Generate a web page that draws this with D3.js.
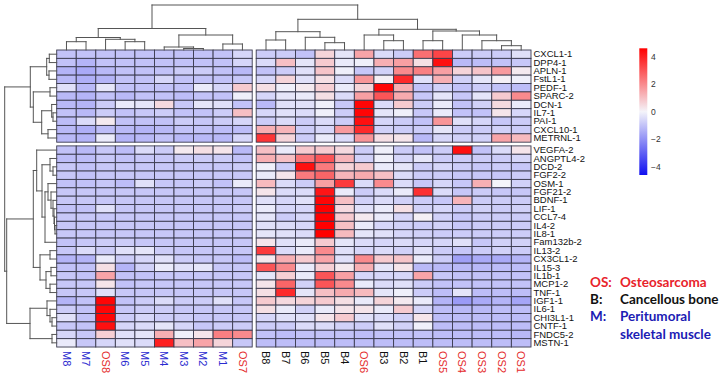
<!DOCTYPE html>
<html>
<head>
<meta charset="utf-8">
<script src="https://cdn.jsdelivr.net/npm/d3@7"></script>
<style>
  body { margin: 0; background: #fff; }
  svg { display: block; }
</style>
</head>
<body>
<div id="chart"></div>
<script>
// column order as in the figure (left block | right block)
const leftCols = ["M8", "M7", "OS8", "M6", "M5", "M4", "M3", "M2", "M1", "OS7"];
const rightCols = ["B8", "B7", "B6", "B5", "B4", "OS6", "B3", "B2", "B1", "OS5", "OS4", "OS3", "OS2", "OS1"];

const topRows = ["CXCL1-1", "DPP4-1", "APLN-1", "FstL1-1", "PEDF-1", "SPARC-2", "DCN-1", "IL7-1", "PAI-1", "CXCL10-1", "METRNL-1"];
const bottomRows = ["VEGFA-2", "ANGPTL4-2", "DCD-2", "FGF2-2", "OSM-1", "FGF21-2", "BDNF-1", "LIF-1", "CCL7-4", "IL4-2", "IL8-1",
  "Fam132b-2", "IL13-2", "CX3CL1-2", "IL15-3", "IL1b-1", "MCP1-2", "TNF-1", "IGF1-1", "IL6-1", "CHI3L1-1", "CNTF-1", "FNDC5-2", "MSTN-1"];

// z-scores, one row per gene, columns in leftCols then rightCols order
const cellValues = [
  [-1, -1, -1, -1, -1, -1, -1, -1, -1, -0.6,   -0.8, -0.8, -1.0, 0.6, -0.3, 1.5, -0.5, -0.8, 2.5, 3.3, -0.8, -0.8, -0.8, -0.4],
  [-1, -1.3, -1, -1, -1, -1, -1, -1, -1, -0.6,   -0.5, 1.0, -0.3, 0.8, -0.2, -0.1, 1.3, 1.6, 0.4, 4.3, -1.2, -1.1, -1.0, -0.9],
  [-1.3, -1.5, -1.2, -1, -1, -1, -0.8, -0.8, -1, -1.2,   -1.0, -0.8, -0.4, 0.9, -0.1, -0.9, -0.7, 2.0, 2.2, 1.6, 0.6, 0.9, 1.7, 0.2],
  [-1.2, -1.4, -1.3, -1, -1, -0.6, -1, -1, -1, -0.9,   -0.6, 0.6, -0.4, 0.4, -0.5, 1.8, 0.1, 3.8, -0.4, 1.3, -0.7, -0.3, 0.1, -0.1],
  [-0.4, -1.2, -0.3, -1, -1, -1, -1, -0.2, -0.6, 0.8,   0.4, -0.1, 0.2, 0.7, -0.2, 0.6, 4.5, 1.3, -1.0, -0.7, -1.0, -0.8, -1.0, -1.1],
  [-1.2, -1.3, -1, -1.2, -1, -1, -1.1, -1, -1, -0.1,   -0.6, -0.3, -0.2, 0.4, -0.5, 1.6, 3.0, 1.4, -0.9, -0.3, -0.9, -0.3, 0.8, 2.0],
  [-1.2, -1.3, -0.8, -0.2, -0.3, 0.5, -0.9, -0.3, -0.4, -1.0,   -1.2, -0.4, -0.4, -0.1, -0.9, 4.5, -0.5, 0.8, -0.8, -0.2, -1.0, -0.7, 0.5, -0.2],
  [-1, -1.2, -0.8, -1, -0.9, -0.8, -1, -1, -0.8, 1.0,   -0.6, -0.4, -0.5, -0.1, -0.8, 4.5, -0.3, -0.1, -0.9, -0.2, -1.0, -1.0, 0.3, -0.6],
  [-1.1, -0.5, 0.2, -1, -1, -1, -0.8, -0.9, -0.8, -0.6,   -0.8, -0.5, -0.8, -0.5, -0.8, 4.3, -0.6, -0.8, -1.0, 1.8, -0.4, -0.6, -0.9, -0.8],
  [-1.2, -1.4, -1.1, -1.2, -1.3, -1.2, -1, -1, -1.1, -1.1,   1.3, 1.2, -0.8, -0.6, 1.7, 3.8, -0.7, -0.8, -0.8, -0.3, -0.8, -0.8, -0.7, -0.8],
  [-1.2, -1.3, -0.2, -1.3, -1.2, -1, -1.2, -1.2, -1.2, -0.6,   3.6, 0.6, -0.8, -0.2, -0.5, 1.8, 0.4, 0.3, -1.2, -0.6, -0.7, -0.7, 1.5, 1.1],

  [-1.0, -1.2, -0.9, -1.1, -0.5, -0.8, 0.2, 0.4, 0.3, -1.2,   1.0, -0.2, 0.8, 0.8, 0.5, -0.8, -0.1, -0.8, -1.0, -0.8, 4.3, -1.0, -0.5, 0.3],
  [-1.1, -1.1, -0.9, -1, -0.9, -0.9, -0.8, -0.8, -0.8, -1.0,   1.3, 1.0, 2.4, 3.0, 1.2, -0.7, -0.1, -0.6, -0.3, -0.8, -0.8, -0.8, -0.8, -0.6],
  [-0.9, -1, -0.9, -0.9, -0.9, -0.9, -0.9, -0.9, -0.9, -0.8,   -0.1, -0.8, 4.3, 2.3, 0.6, 0.8, -0.2, -0.3, -0.8, -0.6, -0.8, -0.9, -0.8, -0.9],
  [-0.9, -1, -0.9, -0.9, -0.9, -0.9, -0.9, -0.9, -0.9, -0.9,   -0.2, 0.3, 2.3, 2.7, 1.2, 1.4, 1.0, -0.5, -0.8, -0.8, -0.9, -0.9, -0.9, -0.8],
  [-1, -1, -0.9, -1.1, -0.4, -0.9, -0.9, -0.8, -1, -0.2,   1.1, -0.5, -0.8, 1.6, 3.5, -0.5, 2.0, -0.5, -0.9, -0.6, -0.9, 1.3, 0.0, -0.7],
  [-0.9, -0.9, -0.9, -0.9, -0.9, -0.9, -0.9, -0.9, -0.9, -0.9,   0.3, -0.5, -0.5, 4.2, -0.2, -0.8, -0.5, -0.2, 3.7, -0.5, -0.9, -0.8, -0.9, -0.9],
  [-0.9, -0.9, -0.9, -0.9, -0.9, -0.9, -0.9, -0.9, -0.9, -0.9,   -0.4, -0.6, -0.4, 4.5, 1.0, -0.7, -0.5, -0.7, -0.8, -0.9, 1.2, -0.8, -0.8, -0.8],
  [-1, -1, -0.4, -0.9, -0.9, -0.9, -0.9, -0.9, -0.9, -0.8,   -0.2, -0.6, -0.6, 4.6, 0.5, -0.4, -0.2, 0.4, -0.7, -0.6, -0.8, -0.7, -0.8, -0.7],
  [-0.9, -0.9, -0.9, -0.9, -0.9, -0.9, -0.9, -0.9, -0.9, -0.9,   -0.3, -0.8, -0.6, 4.6, 0.8, 0.2, -0.2, -0.6, 0.1, -0.7, -0.9, -0.8, -0.8, -0.8],
  [-0.9, -0.9, -0.9, -0.9, -0.9, -0.9, -0.9, -0.9, -0.9, -0.9,   -0.4, -0.5, -0.6, 4.6, 1.0, -0.2, -0.6, -0.7, -0.8, -0.7, -0.9, -0.8, -0.8, -0.8],
  [-0.9, -0.9, -0.9, -0.9, -0.9, -0.9, -0.9, -0.9, -0.9, -0.9,   -0.3, -0.4, -0.5, 4.6, 1.1, -0.3, -0.4, -0.6, -0.7, -0.8, -0.8, -0.8, -0.8, -0.8],
  [-1, -0.9, -0.8, -0.8, -0.9, -0.9, -0.9, -0.9, -0.9, -0.9,   0.3, -0.4, -0.2, 0.8, -0.3, -0.5, -0.6, -0.5, -0.6, -0.6, -0.4, -0.9, -0.7, -0.7],
  [-0.9, -0.5, -0.8, -0.4, -0.3, -0.8, -0.9, -0.9, -0.9, -0.9,   3.5, -0.5, -0.2, 2.0, -0.4, -0.6, -0.5, -0.7, -0.4, -0.8, -0.9, -0.8, -0.7, -0.8],
  [-1.3, -1.3, -0.2, -0.8, -0.6, -0.4, -0.8, -0.9, -0.9, -1.1,   0.2, 1.3, 0.8, 1.5, -0.4, 2.0, 0.8, 0.9, -0.2, -0.8, -1.7, -1.5, -1.5, -1.3],
  [-1, -1, 0.4, -1.3, -0.7, -0.2, -0.4, -0.3, -0.9, -0.9,   3.0, 2.0, -0.2, 0.7, 0.2, 1.3, -0.3, 0.3, -1.2, -1.2, -1.2, -1.2, -1.1, -1.1],
  [-0.9, -1, 1.5, -1, -1, -0.9, -0.9, -0.9, -0.9, -0.9,   -0.3, 0.7, -0.2, 3.0, 1.6, -0.6, -0.6, -0.6, 1.5, -0.9, -1.0, -1.0, -1.0, -1.0],
  [-0.9, -0.9, 0.3, -1, -0.9, -0.9, -0.9, -0.9, -0.9, -0.9,   0.3, 2.7, -0.7, 3.0, 2.0, -0.2, -0.5, -0.4, -0.8, -1.0, -1.0, -1.0, -1.0, -1.0],
  [-0.9, -0.9, -0.4, -0.9, -0.9, -0.9, -0.9, -0.9, -0.9, -0.9,   0.4, 3.8, -0.3, 1.0, 1.4, 1.1, -0.3, -0.1, -0.8, -1.1, -0.3, -1.1, -1.1, -1.1],
  [-1.3, -1.0, 4.5, -1.0, -0.8, -0.5, -0.8, -0.8, -0.4, -0.9,   0.8, 0.5, 0.6, 0.8, 0.4, -0.2, 0.6, 0.2, -0.2, -1.3, -1.8, -1.5, -1.3, -1.6],
  [-0.8, -1, 4.5, -0.9, -0.8, -0.8, -0.9, -0.9, -0.9, -0.9,   0.4, -0.2, -0.7, -0.2, 0.3, 0.3, -0.2, 0.8, -0.6, -1.1, -1.2, -1.2, -1.1, -1.1],
  [-0.4, -1, 4.5, -0.8, -0.6, -0.8, -0.8, -0.9, -0.9, -0.9,   -0.6, -0.4, -0.4, 0.3, 0.8, -0.4, -0.5, -0.7, 0.3, -1.1, -1.1, -1.1, -1.1, -1.1],
  [-0.9, -1, 4.3, -0.6, -0.5, -0.3, -0.6, -0.9, -0.8, -0.8,   -0.8, -0.8, -0.5, -0.5, -0.7, -0.8, -0.4, -0.7, -0.1, -1.1, -1.1, -1.1, -1.1, -1.1],
  [-0.6, -0.9, 0.7, -0.4, -0.3, 1.3, -0.1, 0.3, 2.2, 2.0,   -1.0, -1.1, -1.0, -1.0, -1.0, -1.1, -1.0, -1.0, -1.0, -1.1, -1.1, -1.1, -1.1, -1.2],
  [-0.2, -0.9, -0.6, -0.4, -0.5, 4.0, 1.0, 1.5, 0.6, -0.9,   -1.1, -1.1, -1.1, -1.1, -1.1, -1.1, -1.1, -1.1, -1.1, -1.1, -1.1, -1.1, -1.1, -1.1]
];

// dendrograms: [left, right, merge height]
const colTree = [
  [
    [["M8", "M7", 8.3], ["OS8", ["M6", "M5", 8.3], 10.7], 12.5],
    [["M4", ["M3", "M2", 1.5], 3], ["M1", "OS7", 6], 15],
    21.5],
  [
    [["B8", "B7", 10], ["B6", ["B5", "B4", 7.3], 12.7], 18.3],
    [["OS6", ["B3", "B2", 9.3], 15], [["B1", "OS5", 9.3], ["OS4", ["OS3", ["OS2", "OS1", 4.3], 9.3], 15], 19], 20.7],
    30.7],
  45];

const rowTree = [
  [
    [["CXCL1-1", "DPP4-1", 7.4], ["APLN-1", "FstL1-1", 7.7], 10],
    [["PEDF-1", "SPARC-2", 6.7], [["DCN-1", ["IL7-1", "PAI-1", 3.7], 5], ["CXCL10-1", "METRNL-1", 8.7], 15], 23.4],
    26.4],
  [
    [
      ["VEGFA-2",
        [["ANGPTL4-2", ["DCD-2", "FGF2-2", 3.7], 6.7],
         [["OSM-1", ["FGF21-2", ["BDNF-1", ["LIF-1", ["CCL7-4", ["IL4-2", "IL8-1", 1.7], 2.2], 2.7], 3.7], 5.7], 8.7], "Fam132b-2", 11.7],
         14.7],
        20],
      [["IL13-2", "CX3CL1-2", 6.7], [["IL15-3", "IL1b-1", 5.7], ["MCP1-2", "TNF-1", 6.7], 10.7], 16.7],
      23.4],
    [["IGF1-1", ["IL6-1", ["CHI3L1-1", "CNTF-1", 4.7], 6.7], 9.7], ["FNDC5-2", "MSTN-1", 4.7], 26.7],
    50],
  52];

const legendTicks = [4, 2, 0, -2, -4];
const groupKey = [
  {code: "OS:", text: ["Osteosarcoma"], color: "#e8232b"},
  {code: "B:", text: ["Cancellous bone"], color: "#111111"},
  {code: "M:", text: ["Peritumoral", "skeletal muscle"], color: "#1c1cb4"}
];

const width = 721, height = 377;
const rowH = 8.38;

let svg = d3.select("#chart")
  .append("svg")
    .attr("width", width)
    .attr("height", height);

svg.append("rect").attr("width", width).attr("height", height).attr("fill", "#fff");

let xLeft = d3.scaleBand().domain(leftCols).range([56.7, 252.2]);
let xRight = d3.scaleBand().domain(rightCols).range([256.2, 531]);
let yTop = d3.scaleBand().domain(topRows).range([50, 50 + topRows.length * rowH]);
let yBottom = d3.scaleBand().domain(bottomRows).range([145.9, 145.9 + bottomRows.length * rowH]);

function colX(name){
  return leftCols.includes(name) ? xLeft(name) : xRight(name);
}
function colW(name){
  return leftCols.includes(name) ? xLeft.bandwidth() : xRight.bandwidth();
}
function rowY(name){
  return topRows.includes(name) ? yTop(name) : yBottom(name);
}

let color = d3.scaleLinear()
  .domain([-4.6, 0, 4.6])
  .range(["#1010f0", "#f4f4fa", "#ff0000"]);

// heatmap cells
let allRows = topRows.concat(bottomRows);
let allCols = leftCols.concat(rightCols);
let cells = [];
allRows.forEach((r, i) => {
  allCols.forEach((c, j) => {
    cells.push({row: r, col: c, value: cellValues[i][j]});
  });
});

svg.append("g")
  .selectAll("rect")
  .data(cells)
  .enter()
  .append("rect")
    .attr("x", d => colX(d.col))
    .attr("y", d => rowY(d.row))
    .attr("width", d => colW(d.col))
    .attr("height", rowH)
    .attr("fill", d => color(d.value))
    .attr("stroke", "#3a3a4e")
    .attr("stroke-width", 0.9);

// dendrograms
function buildTree(tree){
  return d3.hierarchy(tree, d => Array.isArray(d) ? d.slice(0, 2) : null);
}

function drawDendro(root, leafPos, hScale, vertical){
  root.eachAfter(n => {
    if (!n.children){
      n.pos = leafPos(n.data);
      n.h = 0;
    } else {
      n.pos = (n.children[0].pos + n.children[1].pos) / 2;
      n.h = n.data[2];
    }
  });
  let segs = [];
  root.each(n => {
    if (!n.children) return;
    let a = n.children[0], b = n.children[1];
    segs.push([a.pos, hScale(n.h), b.pos, hScale(n.h)]);
    segs.push([a.pos, hScale(a.h), a.pos, hScale(n.h)]);
    segs.push([b.pos, hScale(b.h), b.pos, hScale(n.h)]);
  });
  if (!vertical){
    segs = segs.map(s => [s[1], s[0], s[3], s[2]]);
  }
  svg.append("g")
    .selectAll("line")
    .data(segs)
    .enter()
    .append("line")
      .attr("x1", d => d[0])
      .attr("y1", d => d[1])
      .attr("x2", d => d[2])
      .attr("y2", d => d[3])
      .attr("stroke", "#555")
      .attr("stroke-width", 1)
      .attr("stroke-linecap", "square");
}

let colH = d3.scaleLinear().domain([0, 45]).range([50, 5]);
drawDendro(buildTree(colTree), name => colX(name) + colW(name) / 2, colH, true);

let rowHScale = d3.scaleLinear().domain([0, 52]).range([56.7, 4.7]);
drawDendro(buildTree(rowTree), name => rowY(name) + rowH / 2, rowHScale, false);

// row labels (slightly stretched like the original device output)
svg.append("g")
  .selectAll("text")
  .data(allRows)
  .enter()
  .append("text")
    .attr("transform", d => "translate(533.5," + (rowY(d) + rowH / 2) + ") scale(1.1,1)")
    .attr("dy", "0.36em")
    .attr("font-family", "Liberation Sans, Arial, sans-serif")
    .attr("font-size", "8.6px")
    .attr("fill", "#111")
    .text(d => d);

// column labels
function colColor(c){
  if (c.startsWith("OS")) return "#e42a2a";
  if (c.startsWith("M")) return "#2b2bd0";
  return "#111";
}
svg.append("g")
  .selectAll("text")
  .data(allCols)
  .enter()
  .append("text")
    .attr("transform", d => "translate(" + (colX(d) + colW(d) / 2) + ",351) rotate(90)")
    .attr("dy", "0.35em")
    .attr("font-family", "Liberation Sans, Arial, sans-serif")
    .attr("font-size", "11px")
    .attr("fill", d => colColor(d))
    .text(d => d);

// colour key
let defs = svg.append("defs");
let grad = defs.append("linearGradient")
  .attr("id", "keygrad")
  .attr("x1", 0).attr("y1", 1).attr("x2", 0).attr("y2", 0);
[-4.6, 0, 4.6].forEach((v, i) => {
  grad.append("stop").attr("offset", (i * 50) + "%").attr("stop-color", color(v));
});

let keyY = d3.scaleLinear().domain([-4.6, 4.6]).range([175, 48.3]);
svg.append("rect")
  .attr("x", 639.3)
  .attr("y", keyY(4.6))
  .attr("width", 8)
  .attr("height", keyY(-4.6) - keyY(4.6))
  .attr("fill", "url(#keygrad)");

svg.append("g")
  .selectAll("text")
  .data(legendTicks)
  .enter()
  .append("text")
    .attr("x", 651)
    .attr("y", d => keyY(d))
    .attr("dy", "0.35em")
    .attr("font-family", "Liberation Sans, Arial, sans-serif")
    .attr("font-size", "8.5px")
    .attr("fill", "#333")
    .text(d => d < 0 ? "\u2212" + Math.abs(d) : d);

// group key
let keyG = svg.append("g")
  .attr("font-family", "Lato, sans-serif")
  .attr("font-weight", "bold")
  .attr("font-size", "13.5px");
let lineY = 286.5;
groupKey.forEach((g) => {
  keyG.append("text").attr("x", 590).attr("y", lineY).attr("fill", g.color).text(g.code);
  g.text.forEach((t) => {
    keyG.append("text").attr("x", 620).attr("y", lineY).attr("fill", g.color).text(t);
    lineY += 17.4;
  });
});
</script>
</body>
</html>
